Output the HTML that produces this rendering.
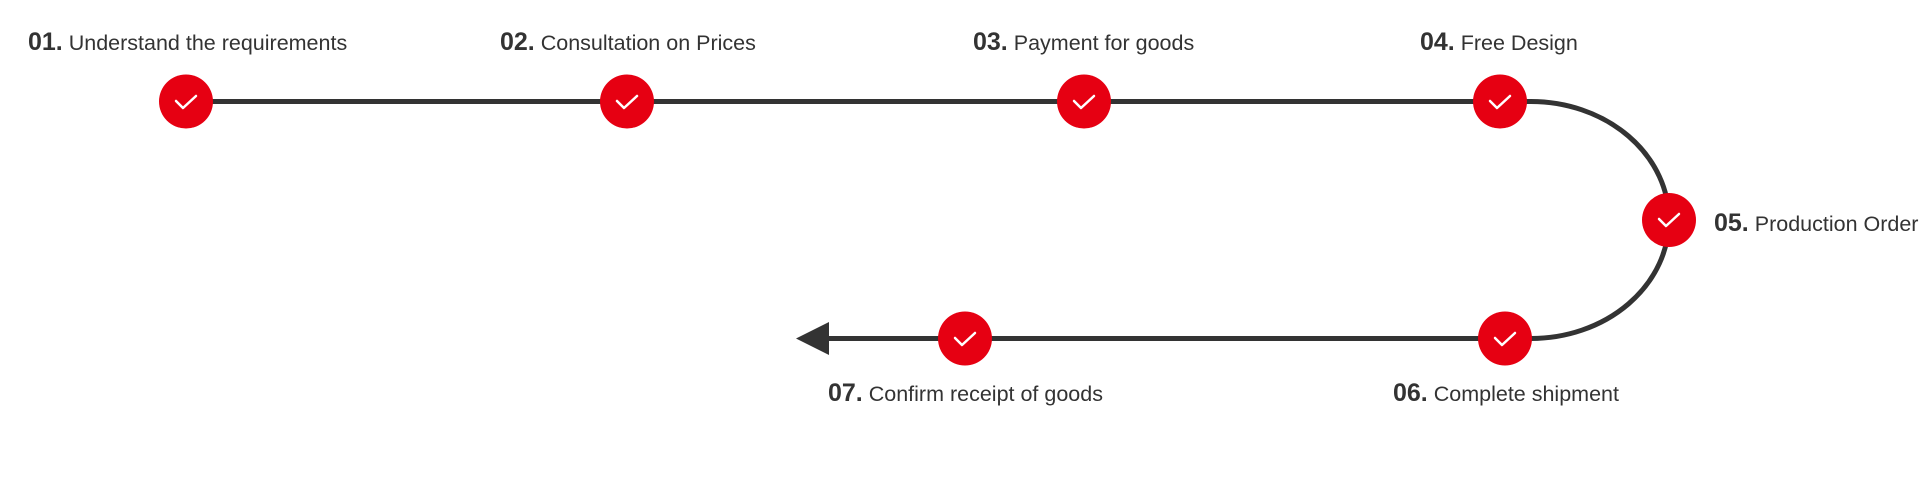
<!DOCTYPE html>
<html><head><meta charset="utf-8"><style>
html,body{margin:0;padding:0;background:#fff;width:1920px;height:483px;overflow:hidden}
svg{display:block}
text{font-family:"Liberation Sans",sans-serif;fill:#333}
.n{font-weight:bold;font-size:25px}
.t{font-size:21.5px}
</style></head><body>
<svg width="1920" height="483" viewBox="0 0 1920 483">
<g fill="none" stroke="#333" stroke-width="5">
<path d="M186 101.5 H1531 A138 118.5 0 0 1 1531 338.5 H820"/>
</g>
<polygon points="796,338.5 829,322 829,355" fill="#333"/>
<g fill="#e60012">
<circle cx="186" cy="101.5" r="27"/>
<circle cx="627" cy="101.5" r="27"/>
<circle cx="1084" cy="101.5" r="27"/>
<circle cx="1500" cy="101.5" r="27"/>
<circle cx="1669" cy="220" r="27"/>
<circle cx="1505" cy="338.5" r="27"/>
<circle cx="965" cy="338.5" r="27"/>
</g>
<g fill="none" stroke="#fff" stroke-width="2.5" stroke-linecap="round" stroke-linejoin="round">
<path d="M176 101 l7 7 l13 -12"/>
<path d="M617 101 l7 7 l13 -12"/>
<path d="M1074 101 l7 7 l13 -12"/>
<path d="M1490 101 l7 7 l13 -12"/>
<path d="M1659 219 l7 7 l13 -12"/>
<path d="M1495 338 l7 7 l13 -12"/>
<path d="M955 338 l7 7 l13 -12"/>
</g>
<text x="28" y="50"><tspan class="n">01.</tspan><tspan class="t"> Understand the requirements</tspan></text>
<text x="500" y="50"><tspan class="n">02.</tspan><tspan class="t"> Consultation on Prices</tspan></text>
<text x="973" y="50"><tspan class="n">03.</tspan><tspan class="t"> Payment for goods</tspan></text>
<text x="1420" y="50"><tspan class="n">04.</tspan><tspan class="t"> Free Design</tspan></text>
<text x="1714" y="231"><tspan class="n">05.</tspan><tspan class="t"> Production Order</tspan></text>
<text x="1393" y="401"><tspan class="n">06.</tspan><tspan class="t"> Complete shipment</tspan></text>
<text x="828" y="401"><tspan class="n">07.</tspan><tspan class="t"> Confirm receipt of goods</tspan></text>
</svg>
</body></html>
